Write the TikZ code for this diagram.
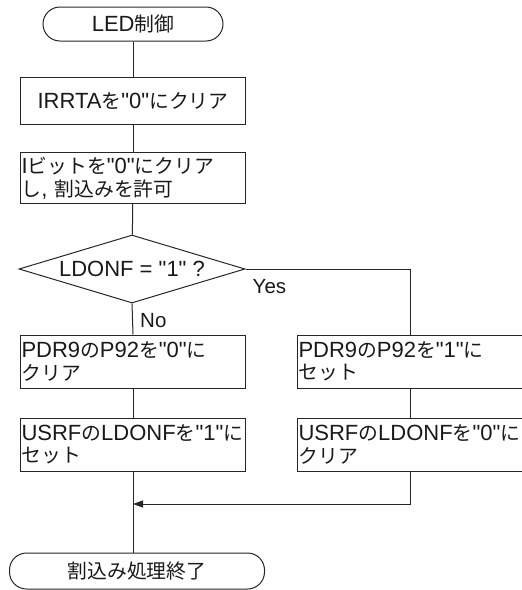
\documentclass[tikz,border=0pt]{standalone}
\usepackage{fontspec}
\setmainfont{Liberation Sans}[Ligatures=TeXOff]
\newfontfamily\jpf[Scale=0.9]{Noto Sans CJK JP}
\newcommand\J[1]{{\jpf #1}}
\usetikzlibrary{arrows.meta,shapes.geometric}
\tikzset{
  base/.style={draw=black!85, line width=1pt, text=black!90, font=\fontsize{22}{22.5}\selectfont},
  terminal/.style={base, rectangle, rounded corners=17pt, inner sep=0pt},
  procbox/.style={base, rectangle, minimum width=225pt, text width=223pt, inner xsep=1pt, inner ysep=0pt, align=left},
  decision/.style={base, diamond, minimum width=226pt, minimum height=68pt, inner sep=0pt, aspect=3.3},
  conn/.style={draw=black!85, line width=1pt},
  lbl/.style={text=black!90, font=\fontsize{20.5}{22}\selectfont, inner sep=0pt, anchor=base west}
}
\begin{document}
\begin{tikzpicture}[x=1pt,y=-1pt]
\useasboundingbox (0,0) rectangle (522,590);
\node[terminal, minimum width=180pt, minimum height=34pt] (start) at (133,24) {LED\J{制御}};
\node[procbox, minimum height=47pt, align=center] (b1) at (133,100.5) {IRRTA\J{を}"0"\J{にクリア}};
\node[procbox, minimum height=51pt] (b2) at (133,178) {I\J{ビットを}"0"\J{にクリア}\\\J{し}, \J{割込みを許可}};
\node[decision] (dec) at (132,269) {LDONF = "1" ?};
\node[procbox, minimum height=53pt] (b3l) at (133,361.5) {PDR9\J{の}P92\J{を}"0"\J{に}\\\J{クリア}};
\node[procbox, minimum height=53pt] (b3r) at (410,361.5) {PDR9\J{の}P92\J{を}"1"\J{に}\\\J{セット}};
\node[procbox, minimum height=53pt] (b4l) at (133,444.5) {USRF\J{の}LDONF\J{を}"1"\J{に}\\\J{セット}};
\node[procbox, minimum height=53pt] (b4r) at (410,444.5) {USRF\J{の}LDONF\J{を}"0"\J{に}\\\J{クリア}};
\node[terminal, minimum width=255pt, minimum height=36pt] (end) at (137,571) {\J{割込み処理終了}\hspace{10pt}};
\coordinate (m) at (133,504);
\draw[conn] (start) -- (b1);
\draw[conn] (b1) -- (b2);
\draw[conn] (b2) -- (dec);
\draw[conn] (dec.south) -- (b3l.north);
\draw[conn] (dec.east) -| (b3r.north);
\draw[conn] (b3l) -- (b4l);
\draw[conn] (b3r) -- (b4r);
\draw[conn] (b4l.south) -- (b4l.south |- end.north);
\draw[conn, -{Triangle[length=10pt,width=7pt]}] (b4r.south) |- (m);
\node[lbl] (yes) at ([shift={(7,24)}]dec.east) {Yes};
\node[lbl] (no) at ([shift={(8,24)}]dec.south) {No};
\end{tikzpicture}
\end{document}
